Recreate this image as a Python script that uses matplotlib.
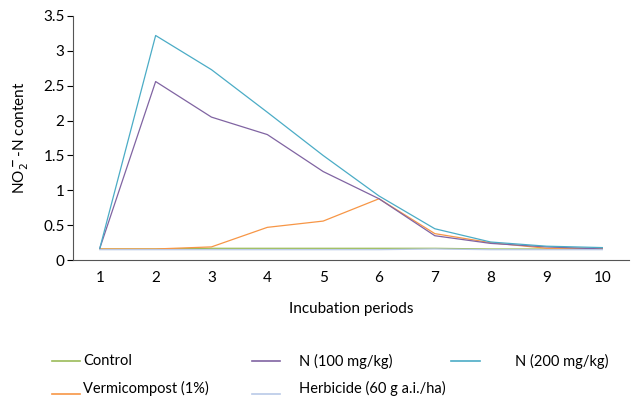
import numpy as np
import matplotlib.pyplot as plt
from matplotlib.lines import Line2D

plt.rcParams['font.family'] = ['Lato', 'DejaVu Sans']

periods = [1, 2, 3, 4, 5, 6, 7, 8, 9, 10]
control = [0.16, 0.16, 0.17, 0.17, 0.17, 0.17, 0.17, 0.16, 0.16, 0.16]
n100 = [0.17, 2.56, 2.05, 1.80, 1.27, 0.88, 0.35, 0.24, 0.19, 0.16]
n200 = [0.17, 3.22, 2.73, 2.12, 1.50, 0.92, 0.45, 0.26, 0.20, 0.18]
vermi = [0.16, 0.16, 0.19, 0.47, 0.56, 0.88, 0.38, 0.25, 0.17, 0.17]
herbi = [0.15, 0.15, 0.15, 0.15, 0.15, 0.15, 0.16, 0.15, 0.15, 0.15]

series = [
    ('Control', control, '#9bbb59'),
    ('Vermicompost (1%)', vermi, '#f79646'),
    ('N (100 mg/kg)', n100, '#8064a2'),
    ('Herbicide (60 g a.i./ha)', herbi, '#b9c9e8'),
    ('N (200 mg/kg)', n200, '#4bacc6'),
]

W, H = 632, 399
fig = plt.figure(figsize=(W / 100, H / 100), dpi=100)
ax = fig.add_axes([0.1155, 0.348, 0.88, 0.612])

for name, vals, col in series:
    ax.plot(periods, vals, color=col, lw=0.9)

ax.set_xlim(0.52, 10.48)
ax.set_ylim(0, 3.5)
ax.set_xticks(periods)
ax.set_yticks(np.arange(0, 3.51, 0.5))
ax.set_yticklabels(['0', '0.5', '1', '1.5', '2', '2.5', '3', '3.5'])
ax.tick_params(axis='x', length=0, labelsize=11, pad=8)
ax.tick_params(axis='y', length=4, labelsize=11, pad=2)
ax.spines['top'].set_visible(False)
ax.spines['right'].set_visible(False)
ax.spines['left'].set_color('#555555')
ax.spines['bottom'].set_color('#555555')
ax.set_xlabel('Incubation periods', fontsize=11, labelpad=12)
ax.set_ylabel(r'NO$_2^{\bf -}$-N content', fontsize=11, labelpad=9)

# legend, laid out like the original (3 columns, 2 rows)
legend_pos = {
    'Control': (52, 80, 83, 361, 361),
    'Vermicompost (1%)': (52, 80, 83, 394, 388),
    'N (100 mg/kg)': (252, 280, 299, 361, 361),
    'Herbicide (60 g a.i./ha)': (252, 280, 299, 394, 388),
    'N (200 mg/kg)': (451, 480, 515, 361, 361),
}
for name, vals, col in series:
    x0, x1, xt, yl, yt = legend_pos[name]
    fig.add_artist(Line2D([x0 / W, x1 / W], [1 - yl / H, 1 - yl / H],
                          color=col, lw=1.2, transform=fig.transFigure))
    fig.text(xt / W, 1 - yt / H, name, fontsize=10.5, va='center', ha='left')

fig.savefig('out.png', dpi=100)
